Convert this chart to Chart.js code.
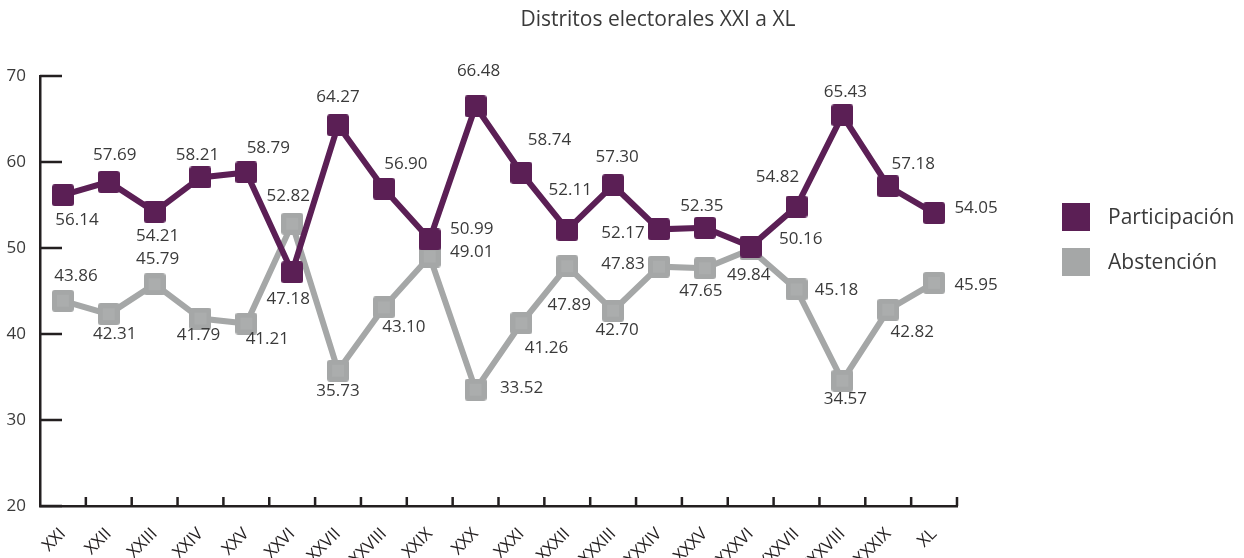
<!DOCTYPE html>
<html>
<head>
<meta charset="utf-8">
<title>Distritos electorales XXI a XL</title>
<script src="https://cdn.jsdelivr.net/npm/chart.js@4.4.0/dist/chart.umd.min.js"></script>
<style>
  html, body { margin: 0; padding: 0; background: #fff; }
  #wrap { width: 1244px; height: 558px; }
</style>
</head>
<body>
<div id="wrap"><canvas id="grafica" width="1244" height="558"></canvas></div>
<script>
// distritos y porcentajes
const distritos = ['XXI', 'XXII', 'XXIII', 'XXIV', 'XXV', 'XXVI', 'XXVII', 'XXVIII', 'XXIX', 'XXX',
  'XXXI', 'XXXII', 'XXXIII', 'XXXIV', 'XXXV', 'XXXVI', 'XXXVII', 'XXXVIII', 'XXXIX', 'XL'];
const participacion = [56.14, 57.69, 54.21, 58.21, 58.79, 47.18, 64.27, 56.90, 50.99, 66.48,
  58.74, 52.11, 57.30, 52.17, 52.35, 50.16, 54.82, 65.43, 57.18, 54.05];
const abstencion = [43.86, 42.31, 45.79, 41.79, 41.21, 52.82, 35.73, 43.10, 49.01, 33.52,
  41.26, 47.89, 42.70, 47.83, 47.65, 49.84, 45.18, 34.57, 42.82, 45.95];
const ejeY = [20, 30, 40, 50, 60, 70];
const titulo = 'Distritos electorales XXI a XL';

const MORADO = '#5b1f55';
const GRIS = '#a5a7a7';
const TINTA = '#231f20';
const TEXTO = '#3a3a3a';
const FUENTE = "'Open Sans', 'DejaVu Sans', sans-serif";

// desplazamiento de cada etiqueta respecto a su punto [dx, dy]
const posPart = [[14, 25], [6, -27], [3, 24], [-3, -22], [22, -24], [-4, 27], [0, -28], [22, -25], [42, -10], [3, -35],
  [28, -33], [3, -40], [4, -28], [-36, 4], [-3, -22], [50, -7], [-19, -29], [3, -23], [25, -22], [42, -5]];
const posAbst = [[13, -25], [6, 20], [3, -25], [-2, 17], [21, 16], [-4, -28], [0, 20], [20, 20], [42, -4], [46, -2],
  [25, 25], [2, 39], [4, 19], [-36, -3], [-4, 23], [-2, 26], [40, 1], [3, 18], [24, 22], [42, 2]];

// cuadrito con esquinas redondeadas para los puntos
function marcador(color, interior) {
  const c = document.createElement('canvas');
  c.width = 22; c.height = 22;
  const g = c.getContext('2d');
  g.fillStyle = color;
  g.beginPath();
  g.roundRect(0, 0, 22, 22, 3);
  g.fill();
  if (interior) {
    g.fillStyle = interior;
    g.fillRect(5, 5, 12, 12);
  }
  return c;
}

const etiquetas = {
  id: 'etiquetas',
  afterDatasetsDraw(chart) {
    const ctx = chart.ctx;
    const pos = [posPart, posAbst];
    ctx.save();
    ctx.font = '17px ' + FUENTE;
    ctx.fillStyle = TEXTO;
    ctx.textAlign = 'center';
    ctx.textBaseline = 'middle';
    chart.data.datasets.forEach((ds, d) => {
      chart.getDatasetMeta(d).data.forEach((p, i) => {
        const o = pos[d][i];
        ctx.fillText(ds.data[i].toFixed(2), p.x + o[0], p.y + o[1]);
      });
    });
    ctx.restore();
  }
};

// marcas cortas de los ejes, hacia dentro
const marcas = {
  id: 'marcas',
  afterDraw(chart) {
    const ctx = chart.ctx;
    const x = chart.scales.x, y = chart.scales.y;
    ctx.save();
    ctx.strokeStyle = TINTA;
    ctx.lineWidth = 2.5;
    ctx.beginPath();
    ejeY.forEach(v => {
      const py = y.getPixelForValue(v);
      ctx.moveTo(x.left, py);
      ctx.lineTo(x.left + 22, py);
    });
    const paso = x.getPixelForValue(1) - x.getPixelForValue(0);
    for (let i = 0; i < distritos.length; i++) {
      const px = x.getPixelForValue(i) + paso / 2;
      ctx.moveTo(px, y.bottom);
      ctx.lineTo(px, y.bottom - 9);
    }
    ctx.stroke();
    ctx.restore();
  }
};

const leyenda = {
  id: 'leyenda',
  afterDraw(chart) {
    const ctx = chart.ctx;
    ctx.save();
    ctx.font = '21px ' + FUENTE;
    ctx.textBaseline = 'middle';
    ctx.textAlign = 'left';
    chart.data.datasets.forEach((ds, d) => {
      const top = 203 + d * 45;
      ctx.fillStyle = ds.borderColor;
      ctx.fillRect(1062, top, 28, 28);
      ctx.fillStyle = TEXTO;
      ctx.fillText(ds.label, 1108, top + 15);
    });
    ctx.font = '21px ' + FUENTE;
    ctx.textAlign = 'center';
    ctx.fillStyle = TEXTO;
    ctx.fillText(titulo, 658, 20);
    ctx.restore();
  }
};

new Chart(document.getElementById('grafica'), {
  type: 'line',
  data: {
    labels: distritos,
    datasets: [{
      label: 'Participación',
      data: participacion,
      borderColor: MORADO,
      backgroundColor: MORADO,
      borderWidth: 6,
      pointStyle: marcador(MORADO),
      pointRadius: 11,
      tension: 0,
      clip: false
    }, {
      label: 'Abstención',
      data: abstencion,
      borderColor: GRIS,
      backgroundColor: GRIS,
      borderWidth: 6,
      pointStyle: marcador(GRIS, '#abadad'),
      pointRadius: 11,
      tension: 0,
      clip: false
    }]
  },
  options: {
    responsive: false,
    animation: false,
    layout: { padding: { top: 76, right: 287, left: 0, bottom: 0 } },
    plugins: {
      legend: { display: false },
      title: { display: false },
      tooltip: { enabled: false }
    },
    scales: {
      x: {
        type: 'category',
        offset: true,
        grid: { display: true, drawOnChartArea: false, drawTicks: false, offset: true },
        border: { display: true, color: TINTA, width: 2.5 },
        ticks: {
          autoSkip: false,
          maxRotation: 45,
          minRotation: 45,
          padding: 18,
          color: TINTA,
          font: { family: FUENTE, size: 17 }
        },
        afterFit(scale) { scale.height = 52; }
      },
      y: {
        min: 20,
        max: 70,
        grid: { display: true, drawOnChartArea: false, drawTicks: false },
        border: { display: true, color: TINTA, width: 2.5 },
        ticks: {
          stepSize: 10,
          padding: 14,
          color: TEXTO,
          font: { family: FUENTE, size: 17 }
        },
        afterFit(scale) { scale.width = 40; }
      }
    }
  },
  plugins: [etiquetas, marcas, leyenda]
});
</script>
</body>
</html>
